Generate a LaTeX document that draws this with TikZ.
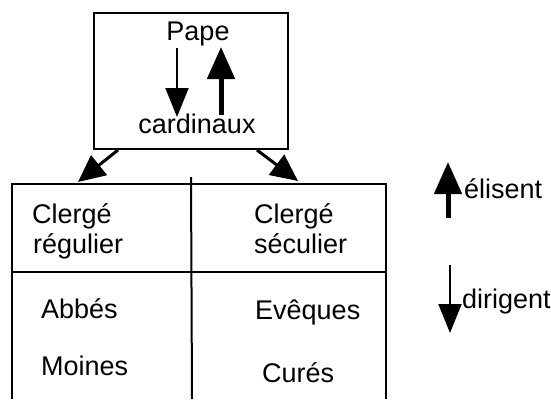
\documentclass[tikz,border=0pt]{standalone}
\usepackage{fontspec}
\setmainfont{Liberation Sans}
\usetikzlibrary{arrows.meta}
\begin{document}
\begin{tikzpicture}[x=1pt,y=-1pt,
  lbl/.style={font=\fontsize{27}{32}\selectfont,inner sep=0pt},
  thin arrow/.style={line width=2pt,-{Triangle[width=23pt,length=29pt]}},
  thick arrow/.style={line width=5pt,-{Triangle[width=27pt,length=32pt]}},
  branch/.style={line width=3pt,-{Triangle[width=25pt,length=27pt]}},
  ]
\useasboundingbox (0,0) rectangle (551,399);
\node[draw,line width=2pt,minimum width=194pt,minimum height=136pt] (rome) at (191,81) {};
\node[lbl,anchor=base] (pape) at (198,40) {Pape};
\node[lbl,anchor=base] (cardinaux) at (197,133) {cardinaux};
\coordinate (dirtop) at (177,48);
\coordinate (dirbot) at (177,117);
\coordinate (elibot) at (221,115);
\coordinate (elitop) at (221,47);
\draw[thin arrow] (dirtop) -- (dirbot);
\draw[thick arrow] (elibot) -- (elitop);

\draw[line width=2pt] (12,399) |- (386,184) -- (386,399);
\draw[line width=2pt] (12,272) -- (386,272);
\draw[line width=2pt] (191,177) -- (192,399);
\coordinate (regulier) at (78,182);
\coordinate (seculier) at (298,181);
\draw[branch] ([xshift=-73pt]rome.south) -- (regulier);
\draw[branch] ([xshift=66pt]rome.south) -- (seculier);

\node[lbl,anchor=base west] (clerge1) at (32,223) {Clergé};
\node[lbl,anchor=base west] (reg) at (33,253) {régulier};
\node[lbl,anchor=base west] (clerge2) at (254,223) {Clergé};
\node[lbl,anchor=base west] (sec) at (254,253) {séculier};
\node[lbl,anchor=base west] (abbes) at (41,318) {Abbés};
\node[lbl,anchor=base west] (moines) at (41,375) {Moines};
\node[lbl,anchor=base west] (eveques) at (255,319) {Evêques};
\node[lbl,anchor=base west] (cures) at (262,382) {Curés};

\coordinate (upbot) at (448,218);
\coordinate (uptop) at (448,162);
\coordinate (downtop) at (450,265);
\coordinate (downbot) at (450,333);
\draw[thick arrow] (upbot) -- (uptop);
\draw[thin arrow] (downtop) -- (downbot);
\node[lbl,anchor=base west] (elisent) at (464,198) {élisent};
\node[lbl,anchor=base west] (dirigent) at (462,308) {dirigent};
\end{tikzpicture}
\end{document}
